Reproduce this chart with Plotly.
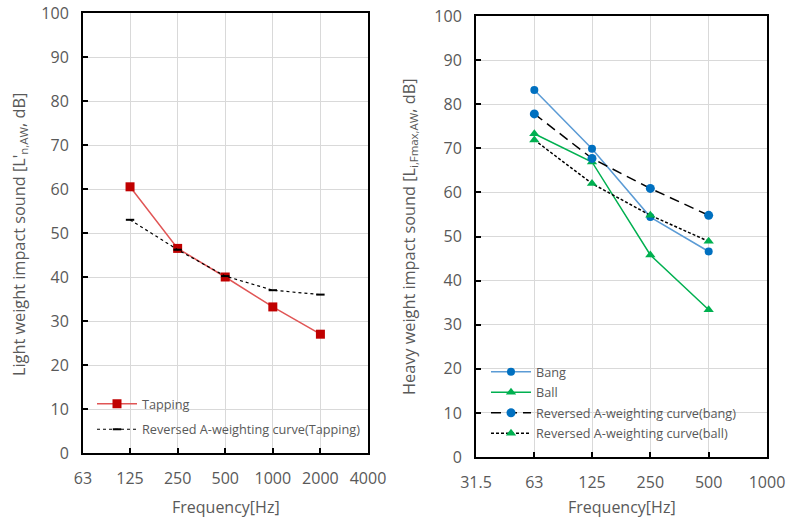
import math
import plotly.graph_objects as go

W, H = 787, 520

# ---- data ----
freq_left = [125, 250, 500, 1000, 2000]
tapping = [60.5, 46.5, 40.0, 33.2, 27.0]
rev_tapping = [53.0, 46.2, 40.2, 37.0, 36.0]
left_ticks = [63, 125, 250, 500, 1000, 2000, 4000]
left_ticklabels = ["63", "125", "250", "500", "1000", "2000", "4000"]

freq_right = [63, 125, 250, 500]
bang = [83.2, 69.9, 54.4, 46.6]
ball = [73.3, 66.9, 45.8, 33.4]
rev_bang = [77.8, 67.7, 60.9, 54.8]
rev_ball = [71.9, 62.0, 54.8, 48.9]
right_ticks = [31.5, 63, 125, 250, 500, 1000]
right_ticklabels = ["31.5", "63", "125", "250", "500", "1000"]

y_ticks = list(range(0, 101, 10))

FONT = "Open Sans"
GREY = "#595959"

fig = go.Figure()

fig.add_trace(go.Scatter(
    x=freq_left, y=tapping, name="Tapping", mode="lines+markers",
    line=dict(color="#E05555", width=1.5),
    marker=dict(symbol="square", size=9, color="#C00000"),
    xaxis="x", yaxis="y", legend="legend", legendgroup="a"))
fig.add_trace(go.Scatter(
    x=freq_left, y=rev_tapping, name="Reversed A-weighting curve(Tapping)",
    mode="lines+markers",
    line=dict(color="#000000", width=1.2, dash="3px,3px"),
    marker=dict(symbol="line-ew-open", size=6, line=dict(color="#000000", width=2)),
    xaxis="x", yaxis="y", legend="legend", legendgroup="b"))

fig.add_trace(go.Scatter(
    x=freq_right, y=bang, name="Bang", mode="lines+markers",
    line=dict(color="#5B9BD5", width=1.5),
    marker=dict(symbol="circle", size=8, color="#0070C0"),
    xaxis="x2", yaxis="y2", legend="legend2", legendgroup="c"))
fig.add_trace(go.Scatter(
    x=freq_right, y=ball, name="Ball", mode="lines+markers",
    line=dict(color="#00B050", width=1.5),
    marker=dict(symbol="triangle-up", size=9, color="#00B050"),
    xaxis="x2", yaxis="y2", legend="legend2", legendgroup="d"))
fig.add_trace(go.Scatter(
    x=freq_right, y=rev_bang, name="Reversed A-weighting curve(bang)",
    mode="lines+markers",
    line=dict(color="#000000", width=1.5, dash="10px,6px"),
    marker=dict(symbol="circle", size=9, color="#0070C0"),
    xaxis="x2", yaxis="y2", legend="legend2", legendgroup="e"))
fig.add_trace(go.Scatter(
    x=freq_right, y=rev_ball, name="Reversed A-weighting curve(ball)",
    mode="lines+markers",
    line=dict(color="#000000", width=1.5, dash="3px,2px"),
    marker=dict(symbol="triangle-up", size=9, color="#00B050"),
    xaxis="x2", yaxis="y2", legend="legend2", legendgroup="f"))

def px_x(p):
    return p / W

def px_y(p):
    return 1 - p / H

axis_common = dict(
    showline=True, linecolor="#000000", linewidth=2, mirror=True,
    showgrid=True, gridcolor="#D9D9D9", gridwidth=1,
    ticks="inside", ticklen=5, tickwidth=2, tickcolor="#000000",
    tickfont=dict(family=FONT, size=16, color=GREY),
    zeroline=False, automargin=False,
)

fig.update_layout(
    width=W, height=H,
    margin=dict(l=0, r=0, t=0, b=0),
    paper_bgcolor="white", plot_bgcolor="white",
    font=dict(family=FONT, color=GREY),
    xaxis=dict(axis_common, type="log", domain=[px_x(83), px_x(368)],
               range=[math.log10(63), math.log10(4000)],
               tickvals=left_ticks, ticktext=left_ticklabels,
               ticklabelstandoff=10, anchor="y"),
    yaxis=dict(axis_common, domain=[px_y(453), px_y(13)], range=[0, 100],
               tickvals=y_ticks, ticklabelstandoff=9, anchor="x"),
    xaxis2=dict(axis_common, type="log", domain=[px_x(476), px_x(767)],
                range=[math.log10(31.5), math.log10(1000)],
                tickvals=right_ticks, ticktext=right_ticklabels,
                ticklabelstandoff=10, anchor="y2"),
    yaxis2=dict(axis_common, domain=[px_y(457), px_y(16)], range=[0, 100],
                tickvals=y_ticks, ticklabelstandoff=9, anchor="x2"),
    legend=dict(x=px_x(92), y=px_y(389), xanchor="left", yanchor="top",
                bgcolor="rgba(0,0,0,0)", font=dict(family=FONT, size=12.7, color=GREY),
                tracegroupgap=6, itemwidth=40),
    legend2=dict(x=px_x(486), y=px_y(357), xanchor="left", yanchor="top",
                 bgcolor="rgba(0,0,0,0)", font=dict(family=FONT, size=12.7, color=GREY),
                 tracegroupgap=1, itemwidth=40),
    showlegend=True,
)

annots = [
    dict(text="Light weight impact sound [L'<sub>n,AW</sub>, dB]", x=px_x(20), y=px_y(235),
         textangle=-90, font=dict(size=16.3)),
    dict(text="Heavy weight impact sound [L<sub>i,Fmax,AW</sub>, dB]", x=px_x(410), y=px_y(237),
         textangle=-90, font=dict(size=16.3)),
    dict(text="Frequency[Hz]", x=px_x(226), y=px_y(507), font=dict(size=16)),
    dict(text="Frequency[Hz]", x=px_x(622), y=px_y(507), font=dict(size=16)),
]
for a in annots:
    a.update(xref="paper", yref="paper", showarrow=False, xanchor="center", yanchor="middle")
    a["font"] = dict(family=FONT, color=GREY, **a["font"])
    fig.add_annotation(**a)

fig.write_html("out.html", config={"displayModeBar": False},
               post_script="document.body.style.margin='0';")
